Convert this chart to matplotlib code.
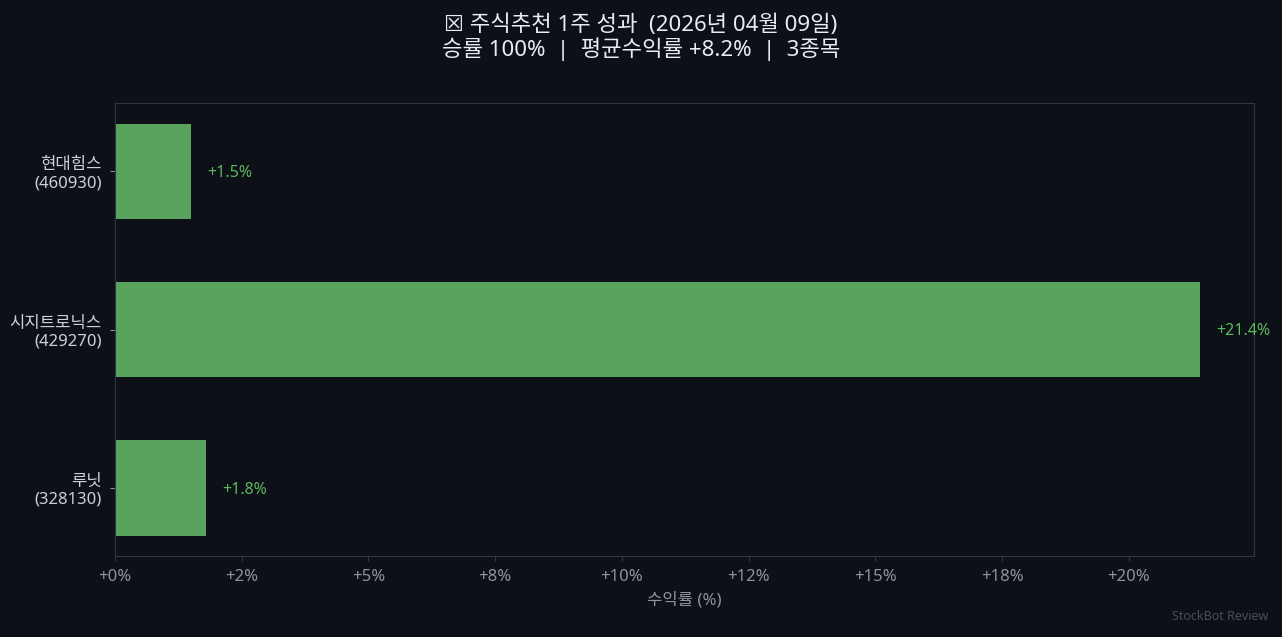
import matplotlib.pyplot as plt
from matplotlib.ticker import MultipleLocator, FuncFormatter

plt.rcParams['font.family'] = ['Noto Sans', 'Noto Sans CJK KR', 'DejaVu Sans']

# data (top to bottom in the chart)
names = ["현대힘스", "시지트로닉스", "루닛"]
codes = ["460930", "429270", "328130"]
returns = [1.5, 21.4, 1.8]

win_rate = 100
avg_return = 8.2
n_stocks = 3
date_str = "2026년 04월 09일"

BG = "#0d1117"
BAR = "#5aa35e"
VAL = "#5cb85c"
SPINE = "#30363d"

fig = plt.figure(figsize=(12.82, 6.37), dpi=100, facecolor=BG)
ax = fig.add_axes([0.0897, 0.127, 0.8885, 0.711], facecolor=BG)

labels = [f"{n}\n({c})" for n, c in zip(names, codes)]
ypos = list(range(len(names)))
ax.barh(ypos, returns, height=0.6, color=BAR)
ax.invert_yaxis()
ax.set_yticks(ypos)
ax.set_yticklabels(labels, color="#c9d1d9", fontsize=12, linespacing=1.15)

top = max(returns)
ax.set_xlim(0, top * 1.05)
for y, v in zip(ypos, returns):
    ax.text(v + top * 0.015, y + 0.01, f"{v:+.1f}%", va="center", ha="left",
            color=VAL, fontsize=11.5)

ax.xaxis.set_major_locator(MultipleLocator(2.5))
ax.xaxis.set_major_formatter(FuncFormatter(lambda x, _: f"{x:+.0f}%"))
ax.tick_params(axis="x", colors=SPINE, labelcolor="#8b949e", labelsize=12, pad=6)
ax.tick_params(axis="y", colors="#8b949e", labelcolor="#c9d1d9", pad=6)
for s in ax.spines.values():
    s.set_color(SPINE)

ax.set_xlabel("수익률 (%)", color="#8b949e", fontsize=12, labelpad=5)

fig.suptitle(f"☒ 주식추천 1주 성과  ({date_str})\n"
             f"승률 {win_rate}%  |  평균수익률 {avg_return:+.1f}%  |  {n_stocks}종목",
             color="#e6edf3", fontsize=16, y=0.978, linespacing=1.1)

fig.text(0.989, 0.022, "StockBot Review", ha="right", va="bottom",
         color="#484f58", fontsize=9)

fig.savefig("out.png", dpi=100, facecolor=BG)
